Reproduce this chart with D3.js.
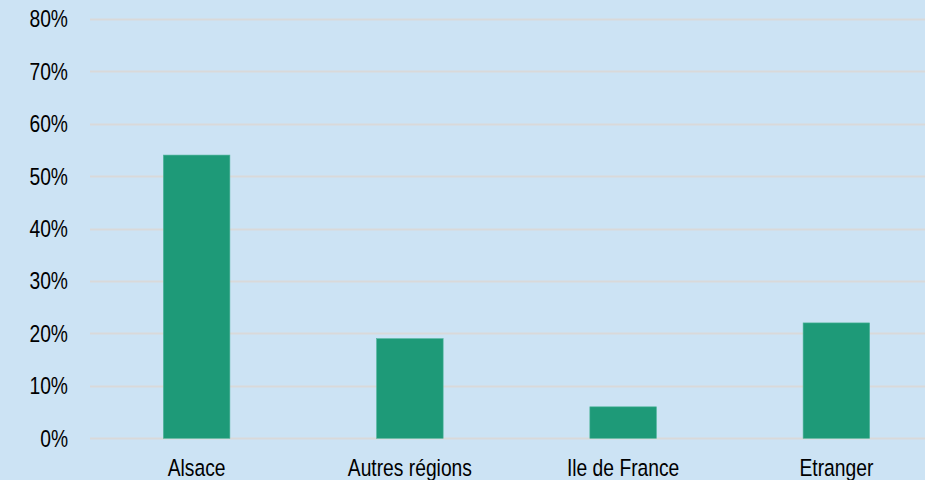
<!DOCTYPE html>
<html>
<head>
<meta charset="utf-8">
<script src="https://cdn.jsdelivr.net/npm/d3@7"></script>
<style>
  body { margin: 0; background: #cce3f4; }
  svg { display: block; font-family: "Liberation Sans", Arial, sans-serif; }
</style>
</head>
<body>
<script>
// data
var categories = ["Alsace", "Autres régions", "Ile de France", "Etranger"];
var values = [0.54, 0.19, 0.06, 0.22];
var yTicks = [0, 0.1, 0.2, 0.3, 0.4, 0.5, 0.6, 0.7, 0.8];

var width = 925,
    height = 480,
    narrow = 0.82; // squeeze text like Arial Narrow

var svg = d3.select("body").append("svg")
    .attr("width", width)
    .attr("height", height);

svg.append("rect")
    .attr("width", width)
    .attr("height", height)
    .attr("fill", "#cce3f4");

var x = d3.scaleBand()
    .domain(categories)
    .range([90, 943])
    .paddingInner(0.688)
    .paddingOuter(0.344);

var y = d3.scaleLinear()
    .domain([0, 0.8])
    .range([438.3, 18.7]);

// gridlines
svg.selectAll(".grid")
    .data(yTicks)
    .enter().append("line")
    .attr("class", "grid")
    .attr("x1", 90)
    .attr("x2", width)
    .attr("y1", function(d) { return Math.round(y(d)) + 0.5; })
    .attr("y2", function(d) { return Math.round(y(d)) + 0.5; })
    .attr("stroke", "#d9d9d9")
    .attr("stroke-width", 2);

// y labels
svg.selectAll(".ylab")
    .data(yTicks)
    .enter().append("text")
    .attr("class", "ylab")
    .attr("transform", function(d) { return "translate(68," + y(d) + ") scale(" + narrow + ",1)"; })
    .attr("dy", "0.36em")
    .attr("text-anchor", "end")
    .attr("font-size", "23.5px")
    .attr("fill", "#000")
    .text(d3.format(".0%"));

// bars
svg.selectAll(".bar")
    .data(values)
    .enter().append("rect")
    .attr("class", "bar")
    .attr("x", function(d, i) { return x(categories[i]); })
    .attr("width", x.bandwidth())
    .attr("y", function(d) { return y(d); })
    .attr("height", function(d) { return y(0) - y(d); })
    .attr("fill", "#1e9a78")
    .attr("stroke", "#4fb59a")
    .attr("stroke-width", 0.6);

// x labels
svg.selectAll(".xlab")
    .data(categories)
    .enter().append("text")
    .attr("class", "xlab")
    .attr("transform", function(d) { return "translate(" + (x(d) + x.bandwidth() / 2) + ",476) scale(" + narrow + ",1)"; })
    .attr("text-anchor", "middle")
    .attr("font-size", "23.5px")
    .attr("fill", "#000")
    .text(function(d) { return d; });
</script>
</body>
</html>
